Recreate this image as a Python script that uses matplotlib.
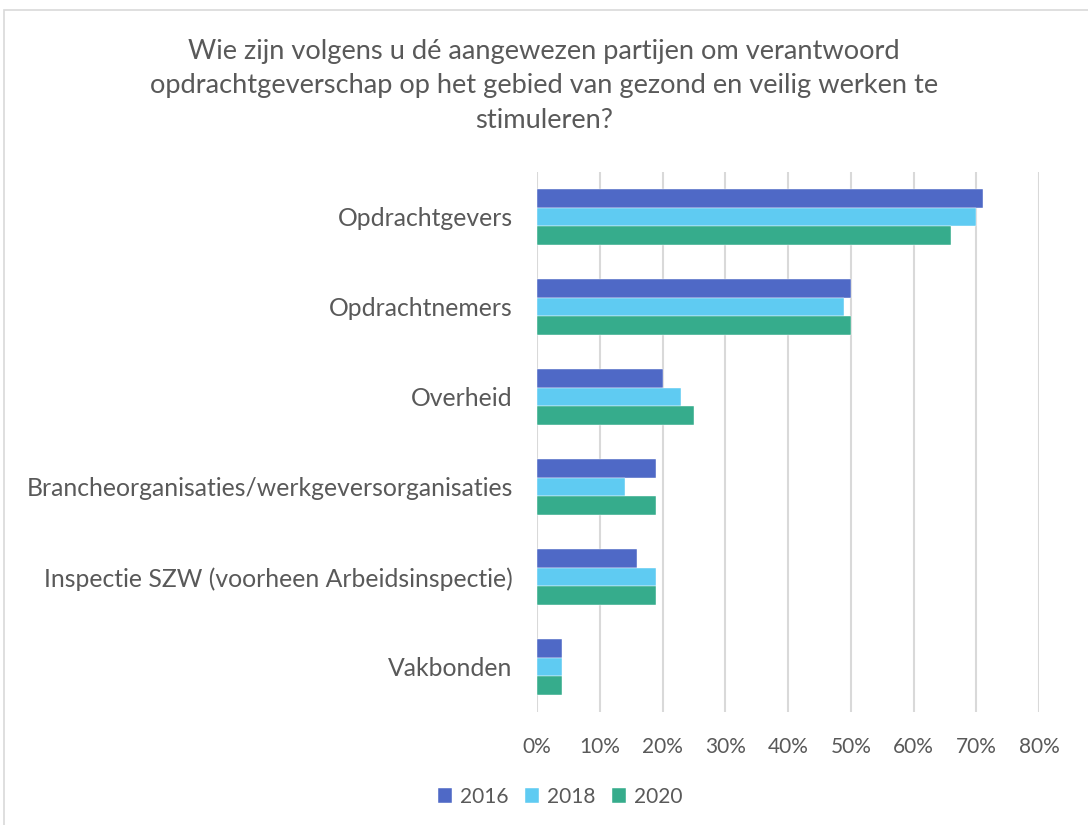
import matplotlib.pyplot as plt
import matplotlib.patches as mpatches
from matplotlib.ticker import PercentFormatter
import numpy as np

plt.rcParams['font.family'] = ['Lato', 'DejaVu Sans']

categories = ['Opdrachtgevers', 'Opdrachtnemers', 'Overheid',
              'Brancheorganisaties/werkgeversorganisaties',
              'Inspectie SZW (voorheen Arbeidsinspectie)', 'Vakbonden']
years = ['2016', '2018', '2020']
v2016 = [71, 50, 20, 19, 16, 4]
v2018 = [70, 49, 23, 14, 19, 4]
v2020 = [66, 50, 25, 19, 19, 4]
colors = ['#4F69C6', '#5FCBF2', '#36AC8C']
grey = '#595959'

fig = plt.figure(figsize=(10.88, 8.25), dpi=100)
ax = fig.add_axes([537 / 1088, 1 - 712 / 825, 502 / 1088, 540 / 825])

# chart frame (cropped on right/bottom)
fig.patches.append(mpatches.Rectangle((4 / 1088, -0.05), 1.1, 1 - 10 / 825 + 0.05,
                                      transform=fig.transFigure, fill=False,
                                      edgecolor='#D9D9D9', linewidth=1.2))

y = np.arange(len(categories))
h = 0.205
for k, (vals, c, lab) in enumerate(zip([v2016, v2018, v2020], colors, years)):
    ax.barh(y + (k - 1) * h, vals, height=h, color=c, label=lab, zorder=3,
            edgecolor='white', linewidth=0.3)

ax.set_xlim(0, 80)
ax.set_ylim(len(categories) - 0.5, -0.5)
ax.set_xticks(np.arange(0, 81, 10))
ax.xaxis.set_major_formatter(PercentFormatter(decimals=0))
ax.set_yticks(y)
ax.set_yticklabels(categories)
ax.tick_params(axis='both', length=0, colors=grey)
ax.tick_params(axis='y', pad=17.5, labelsize=17.8)
ax.tick_params(axis='x', pad=18, labelsize=15)
ax.grid(axis='x', color='#D9D9D9', linewidth=1.5, zorder=0)
for s in ax.spines.values():
    s.set_visible(False)

fig.text(0.5, 1 - 86 / 825,
         'Wie zijn volgens u dé aangewezen partijen om verantwoord\n'
         'opdrachtgeverschap op het gebied van gezond en veilig werken te\n'
         'stimuleren?',
         ha='center', va='center', fontsize=19.6, color=grey, linespacing=1.5)

fig.legend(loc='center', bbox_to_anchor=(560 / 1088, 1 - 797 / 825), ncol=3,
           frameon=False, fontsize=15, labelcolor=grey, handlelength=0.7,
           handleheight=0.7, handletextpad=0.35, columnspacing=0.8)

fig.savefig('out.png', dpi=100, facecolor='white')
